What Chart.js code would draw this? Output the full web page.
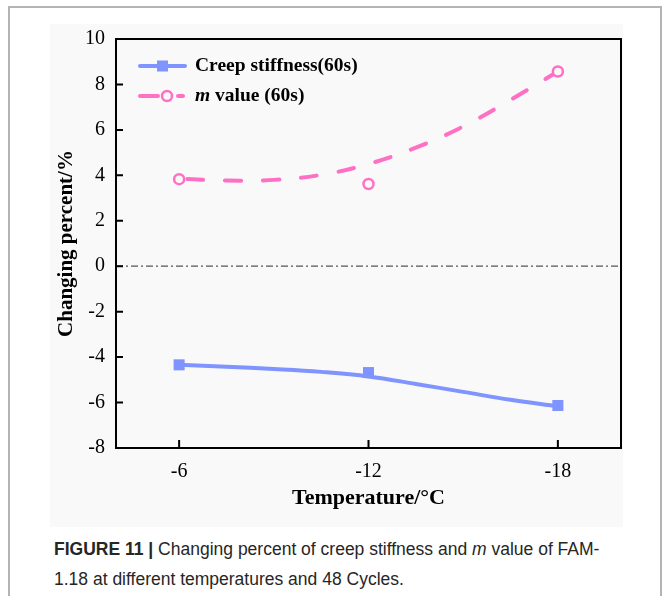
<!DOCTYPE html>
<html>
<head>
<meta charset="utf-8">
<script src="https://cdn.jsdelivr.net/npm/chart.js@4"></script>
<style>
  html, body { margin: 0; padding: 0; background: #ffffff; }
  body { width: 664px; height: 596px; position: relative; overflow: hidden; }
  .frame {
    position: absolute; left: 8px; top: 6px; width: 654px; height: 610px;
    border: 2px solid #b4b4b4; box-sizing: border-box;
  }
  .plot {
    position: absolute; left: 50px; top: 24px; width: 573px; height: 503px;
    background: #f9f9f9;
  }
  .plot canvas { display: block; }
  .caption {
    position: absolute; left: 54px; top: 534px; width: 600px;
    font-family: "Liberation Sans", Arial, sans-serif; font-size: 17.5px;
    line-height: 30px; color: #262626;
  }
  .caption b { font-weight: bold; }
</style>
</head>
<body>
<div class="frame"></div>
<div class="plot"><canvas id="chart" width="573" height="503"></canvas></div>
<div class="caption"><b>FIGURE 11 |</b> Changing percent of creep stiffness and <i>m</i> value of FAM-<br>1.18 at different temperatures and 48 Cycles.</div>
<script>
// Measured temperatures (°C) and changing percent (%)
const temperatures = [-6, -12, -18];
const creepStiffness = [-4.34, -4.68, -6.13];
const mValue = [3.83, 3.62, 8.57];

// Smoothed trend curves through the measurements
const trendTemps = [-6, -7.5, -9, -10.5, -12, -13.5, -15, -16.5, -18];
const creepTrend = [-4.34, -4.42, -4.52, -4.65, -4.85, -5.18, -5.53, -5.88, -6.17];
const mTrend = [3.85, 3.77, 3.80, 4.02, 4.50, 5.22, 6.15, 7.32, 8.57];

const xTicks = [-6, -12, -18];
const yTicks = [-8, -6, -4, -2, 0, 2, 4, 6, 8, 10];

const BLUE = '#7f94ff';
const PINK = '#ff6fc3';
const SERIF = '"Liberation Serif", "Times New Roman", serif';

const toPoints = (xs, ys) => xs.map((x, i) => ({ x: x, y: ys[i] }));

// Frame, inward ticks, zero reference line and legend
const decorations = {
  id: 'decorations',
  beforeDatasetsDraw(chart) {
    const { ctx, chartArea: a, scales: { y } } = chart;
    const y0 = y.getPixelForValue(0);
    ctx.save();
    ctx.strokeStyle = '#555';
    ctx.lineWidth = 1.2;
    ctx.setLineDash([7, 3, 2, 3]);
    ctx.beginPath();
    ctx.moveTo(a.left, y0);
    ctx.lineTo(a.right, y0);
    ctx.stroke();
    ctx.restore();
  },
  afterDraw(chart) {
    const { ctx, chartArea: a, scales: { x, y } } = chart;
    ctx.save();
    ctx.strokeStyle = '#000';
    ctx.lineWidth = 2;
    ctx.strokeRect(a.left, a.top, a.right - a.left, a.bottom - a.top);
    ctx.beginPath();
    yTicks.forEach(v => {
      const py = y.getPixelForValue(v);
      ctx.moveTo(a.left, py);
      ctx.lineTo(a.left + 7, py);
    });
    xTicks.forEach(v => {
      const px = x.getPixelForValue(v);
      ctx.moveTo(px, a.bottom);
      ctx.lineTo(px, a.bottom - 8);
    });
    ctx.stroke();

    // legend
    const lx = a.left + 24;
    const ly1 = a.top + 27;
    const ly2 = a.top + 57;
    ctx.lineCap = 'round';
    ctx.lineWidth = 4;
    ctx.strokeStyle = BLUE;
    ctx.beginPath();
    ctx.moveTo(lx, ly1);
    ctx.lineTo(lx + 45, ly1);
    ctx.stroke();
    ctx.fillStyle = BLUE;
    ctx.fillRect(lx + 17, ly1 - 5.5, 11, 11);

    ctx.strokeStyle = PINK;
    ctx.beginPath();
    ctx.moveTo(lx, ly2);
    ctx.lineTo(lx + 18, ly2);
    ctx.moveTo(lx + 38, ly2);
    ctx.lineTo(lx + 43, ly2);
    ctx.stroke();
    ctx.lineWidth = 2.5;
    ctx.fillStyle = '#f9f9f9';
    ctx.beginPath();
    ctx.arc(lx + 27, ly2, 5, 0, Math.PI * 2);
    ctx.fill();
    ctx.stroke();

    ctx.fillStyle = '#000';
    ctx.textBaseline = 'middle';
    ctx.textAlign = 'left';
    const tx = lx + 55;
    ctx.font = 'bold 19.5px ' + SERIF;
    ctx.fillText('Creep stiffness(60s)', tx, ly1);
    ctx.font = 'italic bold 19.5px ' + SERIF;
    ctx.fillText('m', tx, ly2);
    const mw = ctx.measureText('m').width;
    ctx.font = 'bold 19.5px ' + SERIF;
    ctx.fillText(' value (60s)', tx + mw, ly2);
    ctx.restore();
  }
};

new Chart(document.getElementById('chart'), {
  type: 'scatter',
  data: {
    datasets: [
      {
        label: 'Creep stiffness(60s)',
        data: toPoints(temperatures, creepStiffness),
        pointStyle: 'rect',
        pointRadius: 7.8,
        pointBackgroundColor: BLUE,
        pointBorderWidth: 0,
        showLine: false,
        order: 0
      },
      {
        label: 'm value (60s)',
        data: toPoints(temperatures, mValue),
        pointStyle: 'circle',
        pointRadius: 5,
        pointBackgroundColor: '#f9f9f9',
        pointBorderColor: PINK,
        pointBorderWidth: 2.5,
        showLine: false,
        order: 0
      },
      {
        label: 'Creep stiffness trend',
        data: toPoints(trendTemps, creepTrend),
        showLine: true,
        borderColor: BLUE,
        borderWidth: 4,
        pointRadius: 0,
        tension: 0.4,
        order: 1
      },
      {
        label: 'm value trend',
        data: toPoints(trendTemps, mTrend),
        showLine: true,
        borderColor: PINK,
        borderWidth: 4,
        borderDash: [16, 22],
        borderDashOffset: -8,
        borderCapStyle: 'round',
        pointRadius: 0,
        tension: 0.4,
        order: 1
      }
    ]
  },
  options: {
    responsive: false,
    animation: false,
    events: [],
    layout: { autoPadding: false, padding: { left: 0, top: 15, right: 2, bottom: 0 } },
    plugins: { legend: { display: false }, tooltip: { enabled: false } },
    scales: {
      x: {
        type: 'linear',
        reverse: true,
        min: -20,
        max: -4,
        afterBuildTicks: s => { s.ticks = xTicks.map(v => ({ value: v })); },
        afterFit: s => { s.height = 79; s.paddingLeft = 0; s.paddingRight = 0; },
        grid: { display: false, drawTicks: false },
        border: { display: false },
        ticks: { color: '#000', padding: 12, font: { family: SERIF, size: 20 } },
        title: {
          display: true,
          text: 'Temperature/°C',
          color: '#000',
          font: { family: SERIF, size: 22, weight: 'bold' },
          padding: { top: 0, bottom: 15 }
        }
      },
      y: {
        min: -8,
        max: 10,
        afterBuildTicks: s => { s.ticks = yTicks.map(v => ({ value: v })); },
        afterFit: s => { s.width = 66; s.paddingTop = 0; s.paddingBottom = 0; },
        grid: { display: false, drawTicks: false },
        border: { display: false },
        ticks: { color: '#000', padding: 11, font: { family: SERIF, size: 20 } },
        title: {
          display: true,
          text: 'Changing percent/%',
          color: '#000',
          font: { family: SERIF, size: 21, weight: 'bold' },
          padding: { top: 4, bottom: 0 }
        }
      }
    }
  },
  plugins: [decorations]
});
</script>
</body>
</html>
